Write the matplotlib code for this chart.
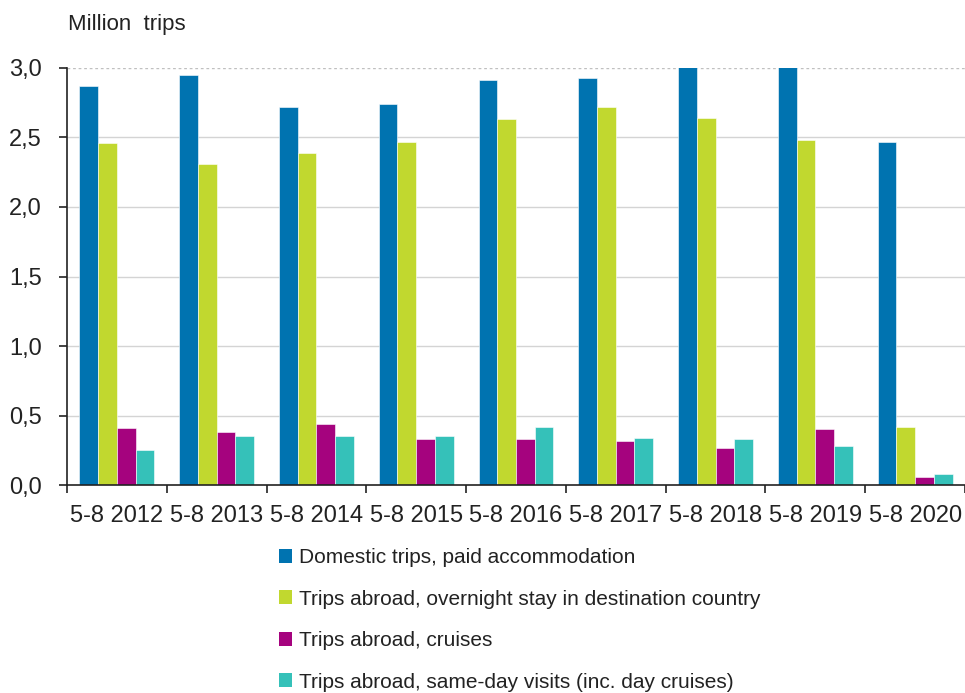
import numpy as np
import matplotlib.pyplot as plt
from matplotlib.patches import Patch

plt.rcParams['font.family'] = ['Liberation Sans', 'DejaVu Sans']

periods = ["5-8 2012", "5-8 2013", "5-8 2014", "5-8 2015", "5-8 2016",
           "5-8 2017", "5-8 2018", "5-8 2019", "5-8 2020"]

domestic = [2.87, 2.95, 2.72, 2.74, 2.91, 2.93, 3.04, 3.03, 2.47]
overnight = [2.46, 2.31, 2.39, 2.47, 2.63, 2.72, 2.64, 2.48, 0.42]
cruises = [0.41, 0.38, 0.44, 0.33, 0.33, 0.32, 0.27, 0.40, 0.06]
sameday = [0.25, 0.35, 0.35, 0.35, 0.42, 0.34, 0.33, 0.28, 0.08]

series_names = ["Domestic trips, paid accommodation",
                "Trips abroad, overnight stay in destination country",
                "Trips abroad, cruises",
                "Trips abroad, same-day visits (inc. day cruises)"]
colors = ['#0073b0', '#c1d82f', '#a5037e', '#35c1b9']

yticks = [0.0, 0.5, 1.0, 1.5, 2.0, 2.5, 3.0]
ytick_labels = ["0,0", "0,5", "1,0", "1,5", "2,0", "2,5", "3,0"]

fig = plt.figure(figsize=(9.65, 6.93), dpi=100)
ax = fig.add_axes([0.0694, 0.300, 0.9306, 0.602])

x = np.arange(len(periods))
w = 0.1875
data = [domestic, overnight, cruises, sameday]
for k, vals in enumerate(data):
    ax.bar(x + (k - 1.5) * w, vals, width=w, color=colors[k],
           edgecolor='white', linewidth=0.4, zorder=3)

ax.set_xlim(-0.5, len(periods) - 0.5)
ax.set_ylim(0, 3.0)

# group labels centred, tick marks at group boundaries
ax.set_xticks(np.arange(len(periods) + 1) - 0.5)
ax.set_xticklabels([])
ax.set_xticks(x, minor=True)
ax.set_xticklabels(periods, minor=True, fontsize=17, color='#222222')
ax.tick_params(axis='x', which='major', length=6, width=1.2, color='#222222', direction='out')
ax.tick_params(axis='x', which='minor', length=0, pad=14)

ax.set_yticks(yticks)
ax.set_yticklabels(ytick_labels, fontsize=17, color='#222222')
ax.tick_params(axis='y', length=6, width=1.2, color='#222222', pad=12)

for v in yticks[1:-1]:
    ax.axhline(v, color='#d4d4d4', lw=1, zorder=1)
ax.axhline(3.0, color='#c0c0c0', lw=1, ls=(0, (2, 2)), zorder=1)

for s in ['top', 'right']:
    ax.spines[s].set_visible(False)
ax.spines['left'].set_color('#222222')
ax.spines['bottom'].set_color('#222222')
ax.spines['left'].set_linewidth(1.2)
ax.spines['bottom'].set_linewidth(1.2)
ax.spines['bottom'].set_zorder(4)

fig.text(0.070, 0.964, "Million  trips", fontsize=16, color='#222222', va='center', ha='left')

handles = [Patch(facecolor=c, edgecolor='none') for c in colors]
fig.legend(handles, series_names, loc='upper left', bbox_to_anchor=(0.289, 0.209),
           frameon=False, fontsize=15, handlelength=0.65, handleheight=0.65,
           handletextpad=0.3, labelspacing=1.08, borderpad=0, borderaxespad=0,
           labelcolor='#222222')

fig.savefig('out.png', dpi=100)
